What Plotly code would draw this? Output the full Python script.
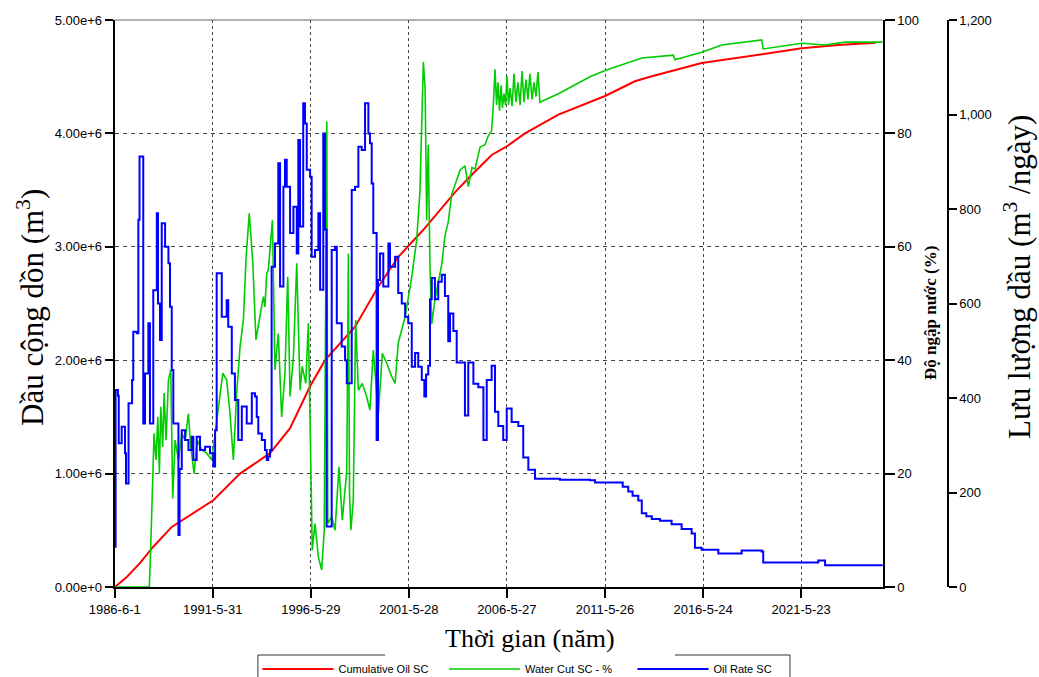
import pandas as pd
import plotly.graph_objects as go

# ---- data (time in decimal years) ----
cum_year = [1986.42, 1987.03, 1987.70, 1988.38, 1989.32, 1991.44, 1992.80, 1994.16, 1994.33,
            1995.35, 1996.37, 1997.13, 1998.66, 1999.85, 2000.86, 2002.14, 2003.75, 2004.52,
            2005.62, 2006.39, 2007.32, 2009.02, 2010.63, 2011.40, 2012.92, 2013.69, 2016.32,
            2019.38, 2021.42, 2023.28, 2025.20]
cum_oil = [0, 88000, 210000, 355000, 530000, 765000, 1000000, 1164000, 1180000,
           1400000, 1770000, 2000000, 2295000, 2650000, 2910000, 3150000, 3480000, 3620000,
           3810000, 3885000, 4000000, 4165000, 4280000, 4330000, 4460000, 4500000, 4620000,
           4700000, 4750000, 4780000, 4800000]

wc_year = [1986.42, 1988.18, 1988.25, 1988.35, 1988.42, 1988.52, 1988.61, 1988.69, 1988.76,
           1988.86, 1988.93, 1989.03, 1989.15, 1989.27, 1989.37, 1989.49, 1989.66, 1989.83,
           1990.00, 1990.17, 1990.29, 1990.46, 1990.62, 1990.85, 1991.10, 1991.36, 1991.53,
           1991.69, 1991.92, 1992.12, 1992.29, 1992.46, 1992.63, 1992.80, 1992.97, 1993.11,
           1993.27, 1993.45, 1993.61, 1993.78, 1993.99, 1994.07, 1994.16, 1994.24, 1994.45,
           1994.58, 1994.75, 1994.92, 1995.09, 1995.23, 1995.35, 1995.52, 1995.69, 1995.86,
           1995.97, 1996.15, 1996.28, 1996.37, 1996.48, 1996.62, 1996.79, 1996.96, 1997.09,
           1997.22, 1997.27, 1997.47, 1997.64, 1997.84, 1998.01, 1998.24, 1998.32, 1998.38,
           1998.45, 1998.57, 1998.69, 1998.83, 1999.03, 1999.25, 1999.42, 1999.59, 1999.85,
           2000.05, 2000.27, 2000.53, 2000.70, 2000.86, 2001.21, 2001.55, 2001.80, 2001.97,
           2002.06, 2002.14, 2002.23, 2002.31, 2002.39, 2002.48, 2002.57, 2002.73, 2003.08,
           2003.24, 2003.41, 2003.59, 2003.84, 2004.01, 2004.26, 2004.43, 2004.62, 2004.77,
           2005.03, 2005.28, 2005.44, 2005.62, 2005.71, 2005.79, 2005.87, 2005.94, 2006.02,
           2006.10, 2006.17, 2006.25, 2006.33, 2006.40, 2006.48, 2006.56, 2006.66, 2006.76,
           2006.86, 2006.96, 2007.07, 2007.17, 2007.27, 2007.37, 2007.47, 2007.57, 2007.68,
           2007.78, 2007.88, 2007.98, 2008.08, 2009.02, 2010.63, 2011.40, 2013.27, 2014.88,
           2014.96, 2016.32, 2017.34, 2019.38, 2019.46, 2021.42, 2022.61, 2023.62, 2025.55]
wc_pct = [0, 0, 7.1, 20, 27.1, 22.4, 30, 20, 31.8,
          24.7, 34.2, 25.9, 36.5, 38.3, 15.6, 25.9, 22.4, 27.1,
          25.9, 30.6, 24.7, 20, 25.9, 24.2, 23.6, 22.4, 27.1,
          32.4, 37.7, 36.5, 30.6, 22.4, 34.2, 42.4, 47.1, 58.3,
          65.9, 57.1, 43.6, 47.1, 51.2, 49.4, 55.3, 55.9, 64.7,
          38.3, 44.7, 30, 37.7, 54.7, 33.6, 40.6, 57.1, 34.7,
          38.9, 35.9, 46.5, 28.9, 6.5, 11.2, 5.3, 3.0, 10,
          82.1, 11.2, 12.4, 10, 21.2, 11.8, 20.6, 58.8, 16,
          10, 15.3, 47.1, 34.7, 35.9, 33.6, 31.2, 41.8, 30.6,
          41.2, 39.5, 37.1, 35.9, 43, 47.7, 54.7, 61.2, 70,
          84.7, 92.6, 88, 64.7, 78, 56.3, 46.4, 50.7, 56.9,
          61.9, 64.4, 69.3, 71.8, 73.5, 74.3, 70.6, 74, 73.7,
          77.6, 78.0, 79.5, 80.5, 85.4, 91.3, 85, 89, 84,
          88.5, 84.5, 87, 85, 90.2, 85, 88, 84.8, 90.5,
          85.5, 89, 85, 91, 85.5, 89.5, 86, 90.5, 86,
          89, 86.5, 90.8, 85.5, 87, 90.0, 91.1, 93.3, 93.8,
          93.0, 94.3, 95.6, 96.5, 94.9, 95.9, 95.6, 96.1, 96.1]

rate_year = [1986.42, 1986.46, 1986.58, 1986.62, 1986.77, 1986.94, 1986.99, 1987.09, 1987.12,
             1987.27, 1987.30, 1987.36, 1987.54, 1987.62, 1987.68, 1987.76, 1987.87, 1987.96,
             1988.13, 1988.21, 1988.38, 1988.56, 1988.62, 1988.72, 1988.81, 1988.98, 1989.15,
             1989.23, 1989.32, 1989.40, 1989.54, 1989.66, 1989.72, 1989.83, 1990.00, 1990.17,
             1990.34, 1990.42, 1990.59, 1990.76, 1991.02, 1991.27, 1991.44, 1991.53, 1991.61,
             1991.78, 1991.87, 1992.12, 1992.20, 1992.38, 1992.54, 1992.71, 1992.89, 1993.14,
             1993.40, 1993.56, 1993.65, 1993.73, 1993.91, 1994.07, 1994.16, 1994.24, 1994.33,
             1994.41, 1994.58, 1994.75, 1994.84, 1995.01, 1995.09, 1995.18, 1995.35, 1995.52,
             1995.69, 1995.77, 1995.86, 1996.02, 1996.11, 1996.20, 1996.37, 1996.45, 1996.62,
             1996.79, 1996.88, 1997.04, 1997.13, 1997.21, 1997.33, 1997.47, 1997.64, 1997.73,
             1997.98, 1998.15, 1998.24, 1998.40, 1998.49, 1998.66, 1998.83, 1999.00, 1999.17,
             1999.34, 1999.42, 1999.51, 1999.59, 1999.76, 1999.83, 1999.93, 2000.10, 2000.36,
             2000.44, 2000.70, 2000.86, 2001.04, 2001.21, 2001.37, 2001.55, 2001.72, 2001.88,
             2002.06, 2002.19, 2002.28, 2002.39, 2002.48, 2002.57, 2002.73, 2002.90, 2003.08,
             2003.24, 2003.41, 2003.50, 2003.67, 2003.84, 2004.10, 2004.26, 2004.43, 2004.69,
             2004.94, 2005.20, 2005.37, 2005.62, 2005.79, 2005.96, 2006.21, 2006.39, 2006.64,
             2006.98, 2007.23, 2007.49, 2007.83, 2009.10, 2010.63, 2010.89, 2012.07, 2012.30,
             2012.58, 2012.80, 2013.09, 2013.27, 2013.50, 2013.78, 2014.20, 2014.79, 2015.30,
             2015.81, 2015.98, 2016.32, 2017.17, 2018.36, 2019.38, 2019.46, 2022.26, 2022.61,
             2025.55]
oil_rate = [85, 417, 405, 304, 339, 283, 219, 219, 389,
            389, 438, 540, 537, 777, 911, 911, 346, 452,
            558, 346, 628, 791, 600, 523, 770, 720, 685,
            593, 459, 346, 346, 110, 250, 332, 311, 290,
            318, 269, 318, 290, 297, 283, 255, 332, 664,
            664, 572, 607, 551, 452, 396, 311, 382, 346,
            410, 403, 360, 325, 311, 290, 269, 276, 290,
            678, 727, 897, 636, 847, 904, 847, 749, 805,
            706, 946, 763, 1024, 981, 883, 868, 699, 713,
            791, 629, 960, 756, 128, 128, 713, 720, 558,
            509, 480, 431, 431, 840, 847, 932, 925, 1024,
            960, 939, 854, 749, 311, 650, 706, 636, 727,
            678, 699, 622, 600, 572, 558, 466, 495, 466,
            438, 403, 450, 468, 609, 654, 609, 646, 661,
            616, 520, 579, 542, 475, 475, 363, 475, 430,
            423, 311, 438, 468, 371, 341, 311, 378, 349,
            341, 274, 248, 229, 227, 226, 221, 221, 212,
            202, 193, 183, 156, 150, 144, 140, 133, 123,
            113, 83, 79, 71, 77, 75, 52, 56, 46,
            44]

tick_dates = ["1986-06-01", "1991-05-31", "1996-05-29", "2001-05-28",
              "2006-05-27", "2011-05-26", "2016-05-24", "2021-05-23"]
tick_text = ["1986-6-1", "1991-5-31", "1996-5-29", "2001-5-28",
             "2006-5-27", "2011-5-26", "2016-5-24", "2021-5-23"]

assert len(cum_year) == len(cum_oil)
assert len(wc_year) == len(wc_pct)
assert len(rate_year) == len(oil_rate)


def to_dates(years):
    out = []
    for y in years:
        yr = int(y)
        start = pd.Timestamp(yr, 1, 1)
        end = pd.Timestamp(yr + 1, 1, 1)
        out.append(start + (end - start) * (y - yr))
    return out


W, H = 1039, 677
ML, MR, MT, MB = 0, 0, 20, 90
PLOT_H = H - MT - MB
X0, X1 = 114.7, 882.7           # pixel extent of the plotting area


def px(x):
    return x / W


def py(y):
    return (H - MB - y) / PLOT_H


tick_font = dict(family="Liberation Sans, Arial", size=13, color="#000")
serif = "Liberation Serif, Times New Roman"

fig = go.Figure()
fig.add_trace(go.Scatter(x=to_dates(cum_year), y=cum_oil, mode="lines",
                         name="Cumulative Oil SC", line=dict(color="#ff0000", width=2),
                         yaxis="y", legend="legend"))
fig.add_trace(go.Scatter(x=to_dates(wc_year), y=wc_pct, mode="lines",
                         name="Water Cut SC - %", line=dict(color="#00cc00", width=1.6),
                         yaxis="y2", legend="legend2"))
fig.add_trace(go.Scatter(x=to_dates(rate_year), y=oil_rate, mode="lines",
                         name="Oil Rate SC", line=dict(color="#0000ff", width=2, shape="hv"),
                         yaxis="y3", legend="legend3"))

legend_common = dict(orientation="h", xanchor="left", yanchor="middle", itemwidth=71,
                     font=dict(family="Liberation Sans, Arial", size=11, color="#000"),
                     bgcolor="rgba(0,0,0,0)", borderwidth=0)

fig.update_layout(
    width=W, height=H,
    margin=dict(l=ML, r=MR, t=MT, b=MB, autoexpand=False),
    paper_bgcolor="white", plot_bgcolor="white",
    showlegend=True,
    xaxis=dict(type="date", domain=[px(X0), px(X1)],
               range=["1986-06-01", "2025-07-19"],
               tickvals=tick_dates, ticktext=tick_text,
               tickfont=tick_font, ticks="outside", ticklen=9, tickwidth=2, tickcolor="#000",
               showline=True, linecolor="#000", linewidth=2,
               showgrid=True, gridcolor="#444", gridwidth=1, griddash="3px,3px",
               zeroline=False),
    yaxis=dict(range=[0, 5e6], tickvals=[0, 1e6, 2e6, 3e6, 4e6, 5e6], tickformat=".2e",
               tickfont=tick_font, ticks="outside", ticklen=8, tickwidth=2, tickcolor="#000",
               showline=True, linecolor="#000", linewidth=2,
               showgrid=True, gridcolor="#444", gridwidth=1, griddash="4px,4px",
               zeroline=False),
    yaxis2=dict(range=[0, 100], tickvals=[0, 20, 40, 60, 80, 100], overlaying="y",
                side="right", anchor="x",
                tickfont=tick_font, ticks="outside", ticklen=10, tickwidth=2, tickcolor="#000",
                showline=True, linecolor="#000", linewidth=2,
                showgrid=False, zeroline=False),
    yaxis3=dict(range=[0, 1200], tickvals=[0, 200, 400, 600, 800, 1000, 1200],
                tickformat=",d", overlaying="y", side="right", anchor="free",
                position=px(947.7),
                tickfont=tick_font, ticks="outside", ticklen=8, tickwidth=2, tickcolor="#000",
                showline=True, linecolor="#000", linewidth=2,
                showgrid=False, zeroline=False),
    legend=dict(x=px(257.5), y=py(669), **legend_common),
    legend2=dict(x=px(444), y=py(669), **legend_common),
    legend3=dict(x=px(632.5), y=py(669), **legend_common),
)

# axis titles
title_pos = dict(xref="paper", yref="paper", showarrow=False,
                 xanchor="center", yanchor="middle")
fig.add_annotation(text="Dầu cộng dồn (m<sup>3</sup>)", x=px(30), y=py(308), textangle=-90,
                   font=dict(family=serif, size=31, color="#000"), **title_pos)
fig.add_annotation(text="<b>Độ ngập nước (%)</b>", x=px(930), y=py(313), textangle=-90,
                   font=dict(family=serif, size=17, color="#000"), **title_pos)
fig.add_annotation(text="Lưu lượng dầu (m<sup>3</sup> /ngày)", x=px(1017), y=py(277),
                   textangle=-90, font=dict(family=serif, size=31, color="#000"), **title_pos)
fig.add_annotation(text="Thời gian (năm)", x=px(530), y=py(638),
                   font=dict(family=serif, size=26, color="#000"), **title_pos)

# top frame line and legend frame (open where the axis title sits)
frame = dict(type="line", xref="paper", yref="paper")
fig.add_shape(**frame, x0=px(X0), x1=px(X1), y0=1, y1=1, line=dict(color="#666", width=1))
for (xa, ya, xb, yb) in [(257.9, 655, 385, 655), (675, 655, 790, 655),
                         (257.9, 655, 257.9, 680), (790, 655, 790, 680)]:
    fig.add_shape(**frame, x0=px(xa), x1=px(xb), y0=py(ya), y1=py(yb),
                  line=dict(color="#333", width=1))

fig.write_html("out.html")
